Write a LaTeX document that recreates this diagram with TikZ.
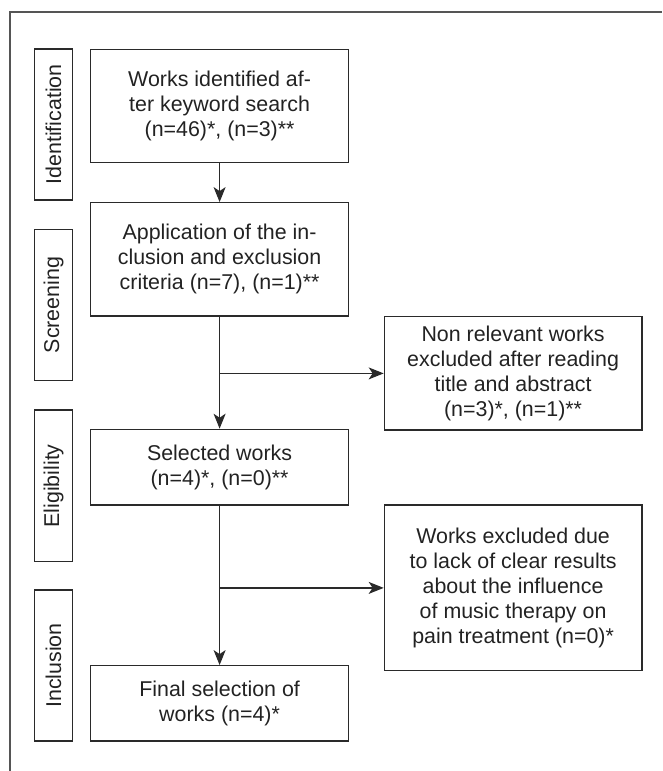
\documentclass[tikz,border=0pt]{standalone}
\usepackage{fontspec}
\setmainfont{Liberation Sans}
\usetikzlibrary{arrows.meta}
\definecolor{linecol}{HTML}{2A2A2A}
\definecolor{framecol}{HTML}{555555}
\definecolor{txtcol}{HTML}{222222}
\tikzset{
  box/.style={draw=linecol, line width=1.3pt, minimum width=257.6pt, align=center, inner sep=0pt, text=txtcol,
    font=\fontsize{21.4}{25}\selectfont},
  stage/.style={draw=linecol, line width=1.3pt, rotate=90, minimum height=38pt, inner sep=0pt, text=txtcol,
    font=\fontsize{21.4}{25}\selectfont},
  flow/.style={draw=linecol, line width=1.3pt, -{Stealth[length=15pt,width=12pt,inset=4pt]}},
}
\begin{document}
\begin{tikzpicture}[x=1pt,y=-1pt]
\useasboundingbox (0,0) rectangle (662,771);
\draw[framecol, line width=1.6pt] (10,771) -- (10,11.7) -- (662,11.7);

\node[stage, minimum width=151pt] (l1) at (53.6,124.5) {Identification};
\node[stage, minimum width=151.4pt] (l2) at (53.6,305) {Screening};
\node[stage, minimum width=151.7pt] (l3) at (53.6,485.9) {Eligibility};
\node[stage, minimum width=151pt] (l4) at (53.6,665.5) {Inclusion};

\node[box, minimum height=113pt] (b1) at (219.6,105.8) {Works identified af-\\ter keyword search\\(n=46)*, (n=3)**};
\node[box, minimum height=113.3pt] (b2) at (219.6,259.4) {Application of the in-\\clusion and exclusion\\criteria (n=7), (n=1)**};
\node[box, minimum height=75.7pt] (b3) at (219.6,467.2) {Selected works\\(n=4)*, (n=0)**};
\node[box, minimum height=75.3pt] (b4) at (219.6,703.4) {Final selection of\\works (n=4)*};

\node[box, minimum height=113.3pt] (r1) at (513.1,373.4) {Non relevant works\\excluded after reading\\title and abstract\\(n=3)*, (n=1)**};
\node[box, minimum height=165.7pt] (r2) at (513.1,587.9) {Works excluded due\\to lack of clear results\\about the influence\\of music therapy on\\pain treatment (n=0)*};

\coordinate (c1) at (219.6,373.4);
\coordinate (c2) at (219.6,587.9);

\draw[flow] (b1.south) -- (b2.north);
\draw[draw=linecol, line width=1.3pt] (b2.south) -- (c1);
\draw[flow] (c1) -- (b3.north);
\draw[flow] (c1) -- (r1.west);
\draw[draw=linecol, line width=1.3pt] (b3.south) -- (c2);
\draw[flow] (c2) -- (b4.north);
\draw[flow] (c2) -- (r2.west);
\end{tikzpicture}
\end{document}
